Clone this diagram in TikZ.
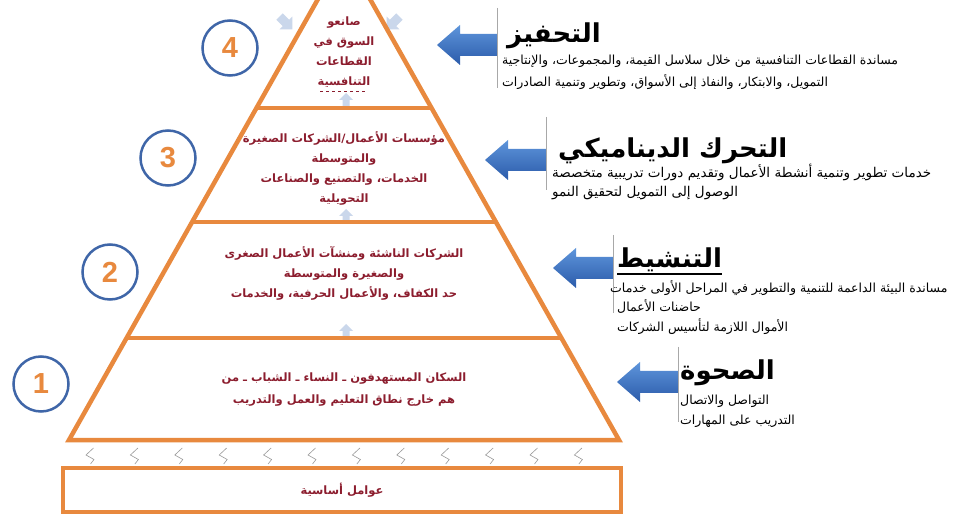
\documentclass[tikz,border=0pt]{standalone}
\usepackage{fontspec}
\setmainfont{DejaVu Sans}
\newfontfamily\ar[Script=Arabic]{DejaVu Sans}
\newfontfamily\lat{Liberation Sans}
\TeXXeTstate=1
\newcommand\AR[1]{{\ar\beginR #1\endR}}
\definecolor{pyr}{HTML}{E8893E}
\definecolor{circ}{HTML}{3F66A8}
\definecolor{tiertxt}{HTML}{8C1D2E}
\definecolor{atop}{HTML}{5E95DB}
\definecolor{abot}{HTML}{2B5BAA}
\definecolor{lblue}{HTML}{CAD7EB}
\definecolor{vline}{HTML}{A8A8A8}
\newcommand\bluearrow[4]{% name, tip x, y, end x
  \shade[top color=atop, bottom color=abot]
    (#2,#3) -- (#2+23,#3-20) -- (#2+23,#3-11) -- (#4,#3-11)
    -- (#4,#3+11) -- (#2+23,#3+11) -- (#2+23,#3+20) -- cycle;
  \coordinate (#1) at (#2,#3);}
\tikzset{
  numcirc/.style={circle, draw=circ, line width=2.5pt, minimum size=55pt,
    inner sep=0pt, text=pyr, font=\lat\bfseries\fontsize{29}{29}\selectfont},
  tiertext/.style={align=center, text=tiertxt,
    font=\bfseries\fontsize{11.5}{20}\selectfont},
  heading/.style={anchor=base west, inner sep=0pt,
    font=\bfseries\fontsize{26}{26}\selectfont},
  bodytext/.style={anchor=north west, align=left, inner sep=0pt,
    font=\fontsize{12.5}{19.5}\selectfont},
  pyrline/.style={draw=pyr, line width=4.5pt},
  lbarrow/.pic={\fill[lblue] (0,-7) -- (7,0) -- (3.5,0) -- (3.5,7) -- (-3.5,7) -- (-3.5,0) -- (-7,0) -- cycle;},
  squig/.style={draw=gray!80, line width=0.6pt},
}
\begin{document}
\begin{tikzpicture}[x=1pt,y=-1pt]
\useasboundingbox (0,0) rectangle (967,521);
\fill[white] (0,0) rectangle (967,521);

% small light-blue arrows
\pic[rotate=-135, scale=1.3] at (286,23) {lbarrow};
\pic[rotate=135, scale=1.3] at (393,23) {lbarrow};
\pic at (346,100) {lbarrow};
\pic at (346,216) {lbarrow};
\pic at (346,331) {lbarrow};

% pyramid
\begin{scope}
\clip (0,0) rectangle (967,521);
\coordinate (pl) at (69,440);
\coordinate (pr) at (619,440);
\coordinate (apex) at (344,-47);
\draw[pyrline, line join=miter] (pl) -- (apex) -- (pr) -- cycle;
\end{scope}
\draw[pyrline] (256.6,108) -- (431.4,108);
\draw[pyrline] (192.2,222) -- (495.8,222);
\draw[pyrline] (126.6,338) -- (561.4,338);
\node[draw=pyr, line width=4.5pt, minimum width=558pt, minimum height=44pt, inner sep=0pt,
      text=tiertxt, font=\bfseries\fontsize{11.5}{12}\selectfont] (base) at (342,490) {\AR{عوامل أساسية}};

% squiggles
\foreach \k in {0,...,11}{
  \pgfmathsetmacro\sx{90+44.4*\k}
  \draw[squig] (\sx+3.5,448) -- (\sx-4,455) -- (\sx+4,459.5) -- (\sx+0.5,464);
}

% tier texts
\node[tiertext] (t4) at (344,52) {\AR{صانعو}\\\AR{السوق في}\\\AR{القطاعات}\\\AR{التنافسية}};
\draw[tiertxt, dashed, line width=0.6pt] (320,91) -- (366,91);
\node[tiertext] (t3) at (344,168) {\AR{مؤسسات الأعمال/الشركات الصغيرة}\\\AR{والمتوسطة}\\\AR{الخدمات، والتصنيع والصناعات}\\\AR{التحويلية}};
\node[tiertext] (t2) at (344,273) {\AR{الشركات الناشئة ومنشآت الأعمال الصغرى}\\\AR{والصغيرة والمتوسطة}\\\AR{حد الكفاف، والأعمال الحرفية، والخدمات}};
\node[tiertext, font=\bfseries\fontsize{11.5}{22}\selectfont] (t1) at (344,390) {\AR{السكان المستهدفون ـ النساء ـ الشباب ـ من}\\\AR{هم خارج نطاق التعليم والعمل والتدريب}};

% number circles
\node[numcirc] (c4) at (230,48) {4};
\node[numcirc] (c3) at (168,158) {3};
\node[numcirc] (c2) at (110,272) {2};
\node[numcirc] (c1) at (41,384) {1};

% blue arrows
\bluearrow{a4}{437}{45}{497}
\bluearrow{a3}{485}{160}{546}
\bluearrow{a2}{553}{268}{613}
\bluearrow{a1}{617}{382}{678}

% vertical grey lines
\draw[vline, line width=1pt] (497,8) -- (497,88);
\draw[vline, line width=1pt] (546,117) -- (546,190);
\draw[vline, line width=1pt] (613,235) -- (613,313);
\draw[vline, line width=1pt] (678,347) -- (678,422);

% right text blocks
\node[heading] (h4) at (507,43) {\AR{التحفيز}};
\node[bodytext, font=\fontsize{12.5}{21.5}\selectfont] (b4) at (502,55) {\AR{مساندة القطاعات التنافسية من خلال سلاسل القيمة، والمجموعات، والإنتاجية}\\\AR{التمويل، والابتكار، والنفاذ إلى الأسواق، وتطوير وتنمية الصادرات}};

\node[heading] (h3) at (558,158) {\AR{التحرك الديناميكي}};
\node[bodytext, font=\fontsize{13.5}{19}\selectfont] (b3) at (552,164) {\AR{خدمات تطوير وتنمية أنشطة الأعمال وتقديم دورات تدريبية متخصصة}\\\AR{الوصول إلى التمويل لتحقيق النمو}};

\node[heading] (h2) at (617,268) {\AR{التنشيط}};
\draw[line width=1.5pt] ([yshift=-6pt]h2.base west) -- ([yshift=-6pt]h2.base east);
\node[bodytext] (b2) at (610,280) {\AR{مساندة البيئة الداعمة للتنمية والتطوير في المراحل الأولى خدمات}\\\hspace{7pt}\AR{حاضنات الأعمال}\\\hspace{7pt}\AR{الأموال اللازمة لتأسيس الشركات}};

\node[heading] (h1) at (680,380) {\AR{الصحوة}};
\node[bodytext] (b1) at (680,395) {\AR{التواصل والاتصال}\\\AR{التدريب على المهارات}};
\end{tikzpicture}
\end{document}
